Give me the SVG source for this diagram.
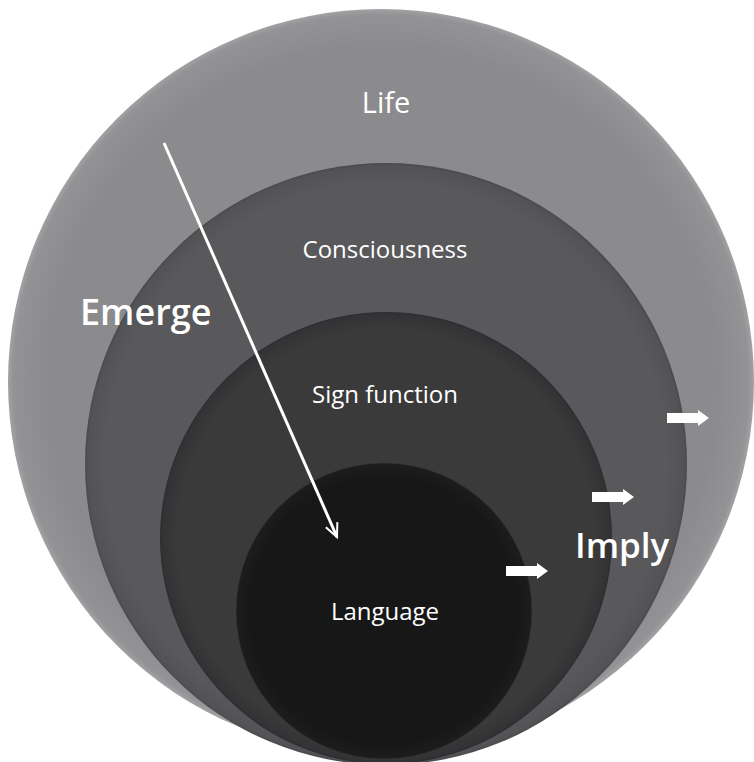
<svg xmlns="http://www.w3.org/2000/svg" width="754" height="762" viewBox="0 0 754 762">
<style>
.lbl{font-family:"Open Sans","Liberation Sans",sans-serif;fill:#ffffff;text-anchor:middle}
.big{font-family:"Open Sans","Liberation Sans",sans-serif;fill:#ffffff;font-weight:600}
</style>
<defs>
<radialGradient id="g1" cx="0.5" cy="0.5" r="0.5">
<stop offset="0.9" stop-color="#8b8b8d"/>
<stop offset="0.985" stop-color="#939395"/>
<stop offset="1" stop-color="#a2a2a4"/>
</radialGradient>
<radialGradient id="g2" cx="0.5" cy="0.5" r="0.5">
<stop offset="0.93" stop-color="#59595b"/>
<stop offset="0.99" stop-color="#535355"/>
<stop offset="1" stop-color="#4a4a4c"/>
</radialGradient>
<radialGradient id="g3" cx="0.5" cy="0.5" r="0.5">
<stop offset="0.92" stop-color="#3a3a3b"/>
<stop offset="0.99" stop-color="#333335"/>
<stop offset="1" stop-color="#2c2c2e"/>
</radialGradient>
<radialGradient id="g4" cx="0.5" cy="0.5" r="0.5">
<stop offset="0.9" stop-color="#171717"/>
<stop offset="0.99" stop-color="#1c1c1d"/>
<stop offset="1" stop-color="#262627"/>
</radialGradient>
<marker id="open" viewBox="0 0 20 20" refX="18" refY="10" markerWidth="18" markerHeight="18" orient="auto" markerUnits="userSpaceOnUse">
<path d="M3,3 L18,10 L3,17" fill="none" stroke="#ffffff" stroke-width="2.2"/>
</marker>
<path id="blk" d="M0,3 H31 V0 L42,8 L31,16 V13 H0 Z" fill="#ffffff"/>
</defs>
<rect width="754" height="762" fill="#ffffff"/>
<g id="life">
<circle cx="381" cy="382" r="373" fill="url(#g1)"/>
<text class="lbl" x="386" y="113" font-size="29">Life</text>
</g>
<g id="consciousness">
<circle cx="386" cy="464" r="301" fill="url(#g2)"/>
<text class="lbl" x="385" y="258" font-size="24">Consciousness</text>
</g>
<g id="sign-function">
<circle cx="386" cy="538" r="226" fill="url(#g3)"/>
<text class="lbl" x="385" y="403" font-size="24">Sign function</text>
</g>
<g id="language">
<circle cx="384" cy="611" r="148" fill="url(#g4)"/>
<text class="lbl" x="385" y="620" font-size="24">Language</text>
</g>
<g id="connectors">
<line x1="164" y1="143" x2="337" y2="537" stroke="#ffffff" stroke-width="3" marker-end="url(#open)"/>
<use href="#blk" x="667" y="410"/>
<use href="#blk" x="592" y="489"/>
<use href="#blk" x="506" y="563"/>
</g>
<g id="labels">
<text class="big" x="80" y="325" font-size="36">Emerge</text>
<text class="big" x="575" y="558" font-size="35">Imply</text>
</g>
</svg>
